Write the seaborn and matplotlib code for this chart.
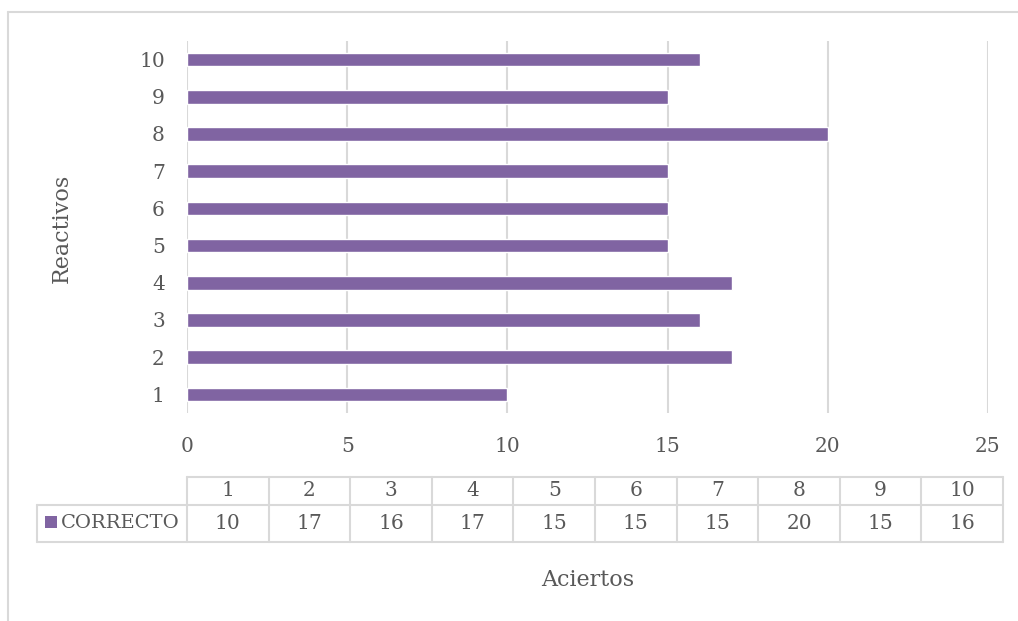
import matplotlib
matplotlib.use("Agg")
import matplotlib.pyplot as plt
from matplotlib.patches import Rectangle
from matplotlib.lines import Line2D
import seaborn as sns
import pandas as pd

# Data
reactivos = ["1", "2", "3", "4", "5", "6", "7", "8", "9", "10"]
correcto = [10, 17, 16, 17, 15, 15, 15, 20, 15, 16]
x_ticks = [0, 5, 10, 15, 20, 25]
series_name = "CORRECTO"
x_title = "Aciertos"
y_title = "Reactivos"

BAR = "#8064A2"
TEXT = "#595959"
GRID = "#D9D9D9"
FS = 14.5

sns.set_theme(style="white")
plt.rcParams["font.family"] = ["DejaVu Serif"]

W, H = 1018, 621
fig = plt.figure(figsize=(W / 100, H / 100), dpi=100)


def fx(px):
    return px / W


def fy(py):
    return 1 - py / H


# Plot area in pixel coordinates
L, R, T, B = 187, 988, 41, 413
ax = fig.add_axes([fx(L), fy(B), fx(R - L), fy(T) - fy(B)])

df = pd.DataFrame({"Reactivo": reactivos, "Aciertos": correcto})
sns.barplot(data=df, x="Aciertos", y="Reactivo", order=reactivos[::-1],
            color=BAR, saturation=1, width=0.37, ax=ax, zorder=3)

ax.set_xlim(0, 25)
ax.set_xticks(x_ticks)
ax.set_xticklabels([str(t) for t in x_ticks])
ax.xaxis.grid(True, color=GRID, linewidth=1.5)
ax.set_axisbelow(True)
for s in ax.spines.values():
    s.set_visible(False)
ax.tick_params(axis="both", length=0, labelsize=FS, labelcolor=TEXT)
ax.tick_params(axis="x", pad=17)
ax.tick_params(axis="y", pad=16)
ax.set_xlabel("")
ax.set_ylabel("")

# Axis titles
fig.text(fx(62), fy(228), y_title, rotation=90, ha="center", va="center",
         fontsize=16, color=TEXT)
fig.text(fx(588), fy(580), x_title, ha="center", va="center",
         fontsize=16, color=TEXT)

# Outer chart border (top and left edges)
fig.add_artist(Line2D([fx(8), fx(W + 20)], [fy(12), fy(12)], color=GRID, lw=1.5))
fig.add_artist(Line2D([fx(8), fx(8)], [fy(12), fy(H + 20)], color=GRID, lw=1.5))

# Data table under the axis
t_left, t_right = 187, 1003
leg_left = 37
r_top, r_mid, r_bot = 477, 505, 542
n = len(reactivos)
col_w = (t_right - t_left) / n


def hline(x0, x1, y):
    fig.add_artist(Line2D([fx(x0), fx(x1)], [fy(y), fy(y)], color=GRID, lw=1.5))


def vline(x, y0, y1):
    fig.add_artist(Line2D([fx(x), fx(x)], [fy(y0), fy(y1)], color=GRID, lw=1.5))


hline(t_left, t_right, r_top)
hline(leg_left, t_right, r_mid)
hline(leg_left, t_right, r_bot)
vline(leg_left, r_mid, r_bot)
for i in range(n + 1):
    vline(t_left + i * col_w, r_top, r_bot)

for i, (lab, val) in enumerate(zip(reactivos, correcto)):
    cx = t_left + (i + 0.5) * col_w
    fig.text(fx(cx), fy((r_top + r_mid) / 2), lab, ha="center", va="center",
             fontsize=FS, color=TEXT)
    fig.text(fx(cx), fy((r_mid + r_bot) / 2), str(val), ha="center", va="center",
             fontsize=FS, color=TEXT)

# Legend key inside the table
fig.add_artist(Rectangle((fx(45), fy(528)), fx(12), fy(516) - fy(528),
                         facecolor=BAR, edgecolor="none"))
fig.text(fx(61), fy((r_mid + r_bot) / 2), series_name, ha="left", va="center",
         fontsize=FS - 0.5, color=TEXT)

fig.savefig("out.png", dpi=100)
